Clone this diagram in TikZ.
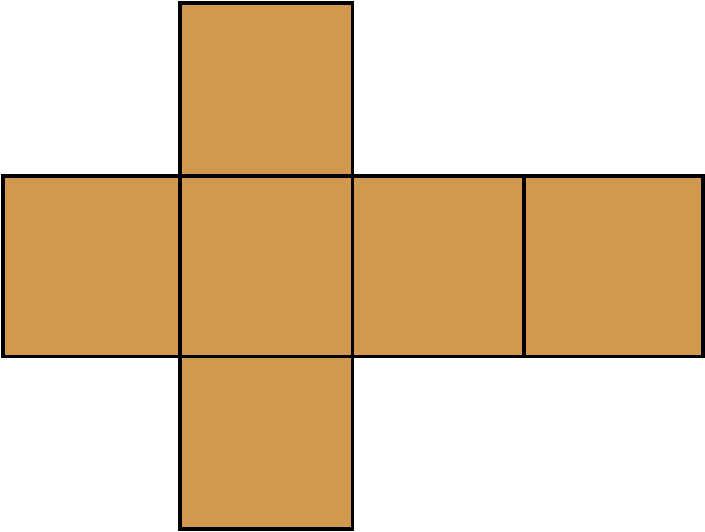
\documentclass[tikz,border=0pt]{standalone}
\usepackage{tikz}
\usetikzlibrary{calc,positioning}
\definecolor{netbrown}{HTML}{D2984F}

\begin{document}
\begin{tikzpicture}[x=1pt,y=-1pt,face/.style={draw=black,fill=netbrown,line width=3.6pt}]
\useasboundingbox (0,0) rectangle (705,532);
\coordinate (A) at (3,176);
\coordinate (B) at (180,176);
\coordinate (C) at (352.5,176);
\coordinate (D) at (524,176);
\coordinate (E) at (703,356.5);
\draw[face] ($(B)+(0,-173)$) rectangle (C|-A);
\draw[face] (A) rectangle (B|-E);
\draw[face] (B) rectangle (C|-E);
\draw[face] (C) rectangle (D|-E);
\draw[face] (D) rectangle (E);
\draw[face] (B|-E) rectangle ($(C|-E)+(0,172.5)$);
\end{tikzpicture}
\end{document}
